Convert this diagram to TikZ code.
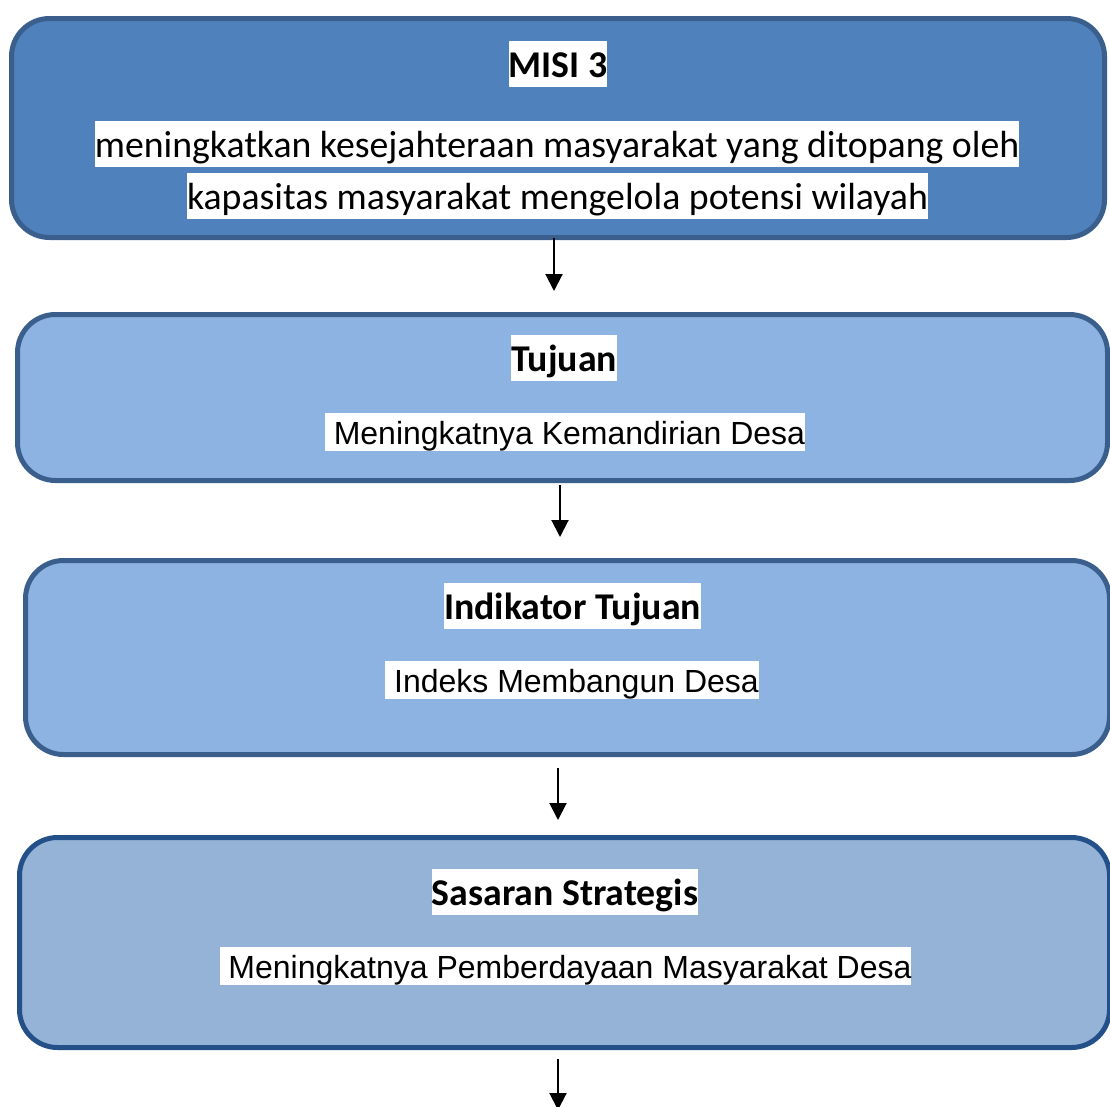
\documentclass[tikz,border=0pt]{standalone}
\usepackage{fontspec}
\newfontfamily\calibrifont{Carlito}
\newfontfamily\arialfont{Liberation Sans}
\usetikzlibrary{arrows.meta,calc}
\definecolor{darkfill}{HTML}{4F81BD}
\definecolor{darkline}{HTML}{3A5F8C}
\definecolor{lightfill}{HTML}{8DB3E2}
\definecolor{paleblue}{HTML}{95B3D7}
\definecolor{deepline}{HTML}{24508A}
\tikzset{
  boxshape/.style={draw, line width=5pt, rounded corners=38pt, inner sep=0pt, outer sep=0pt},
  headtext/.style={fill=white, inner xsep=0pt, inner ysep=0pt, text height=36pt, text depth=10pt, anchor=base,
    font=\calibrifont\bfseries\fontsize{37.8}{45}\selectfont},
  bodytext/.style={fill=white, inner xsep=0pt, inner ysep=0pt, text height=36pt, text depth=10pt, anchor=base,
    font=\calibrifont\fontsize{37.8}{45}\selectfont},
  ariatext/.style={fill=white, inner xsep=0pt, inner ysep=0pt, text height=31pt, text depth=7pt, anchor=base,
    font=\arialfont\fontsize{32}{38}\selectfont},
  flowarrow/.style={line width=2pt, -{Triangle[width=17pt,length=17pt]}}
}
\begin{document}
\begin{tikzpicture}[x=1pt,y=-1pt]
\useasboundingbox (0,0) rectangle (1110,1106);
\clip (0,0) rectangle (1110,1106);
% boxes
\node[boxshape, fill=darkfill, draw=darkline, minimum width=1093pt, minimum height=219pt] (box1) at (558,128) {};
\node[boxshape, fill=lightfill, draw=darkline, minimum width=1090pt, minimum height=166pt] (box2) at (562.5,397.5) {};
\node[boxshape, fill=lightfill, draw=darkline, minimum width=1084pt, minimum height=194pt] (box3) at (567.5,657.5) {};
\node[boxshape, fill=paleblue, draw=deepline, minimum width=1090pt, minimum height=210pt] (box4) at (564.5,942.5) {};
% texts
\node[headtext] (misi) at (558,77) {MISI 3};
\node[bodytext] (misiA) at (557,157) {meningkatkan kesejahteraan masyarakat yang ditopang oleh};
\node[bodytext] (misiB) at (557.5,209) {kapasitas masyarakat mengelola potensi wilayah};
\node[headtext] (tuj) at (564,371) {Tujuan};
\node[ariatext] (tujA) at (565,444) {\hspace*{0.278em}Meningkatnya Kemandirian Desa};
\node[headtext] (ind) at (572.5,619) {Indikator Tujuan};
\node[ariatext] (indA) at (572,692) {\hspace*{0.278em}Indeks Membangun Desa};
\node[headtext] (sas) at (565,905) {Sasaran Strategis};
\node[ariatext] (sasA) at (565.5,978) {\hspace*{0.278em}Meningkatnya Pemberdayaan Masyarakat Desa};
% arrow ends
\coordinate (a1s) at ($(box1.south)+(-4,0)$);
\coordinate (a1e) at (554,291);
\coordinate (a2s) at (560,485);
\coordinate (a2e) at (560,537);
\coordinate (a3s) at (558,768);
\coordinate (a3e) at (558,820);
\coordinate (a4s) at (558,1059);
\coordinate (a4e) at (558,1110);
\draw[flowarrow] (a1s) -- (a1e);
\draw[flowarrow] (a2s) -- (a2e);
\draw[flowarrow] (a3s) -- (a3e);
\draw[flowarrow] (a4s) -- (a4e);
\end{tikzpicture}
\end{document}
